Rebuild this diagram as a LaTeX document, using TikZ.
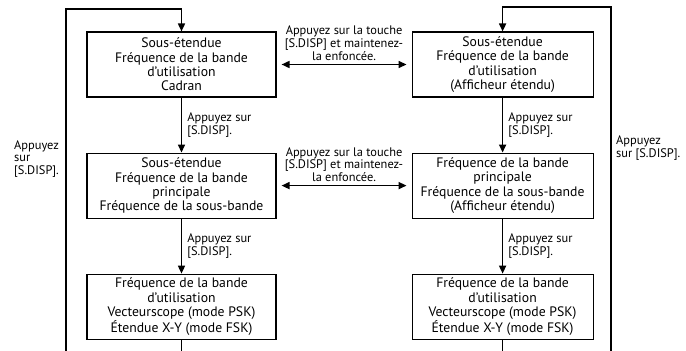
\documentclass[tikz,border=0pt]{standalone}
\usepackage{fontspec}
\setmainfont{PT Sans}
\usetikzlibrary{positioning,arrows.meta}

\begin{document}
\begin{tikzpicture}[node distance=55pt and 135pt,
        mode/.style={draw, rectangle, line width=1.1pt, align=center, minimum height=65pt, inner sep=2pt, font=\fontsize{13.7}{14.3}\selectfont},
        flow/.style={-{Triangle[length=8pt,width=7pt]}, line width=1.6pt},
        swap/.style={{Triangle[length=8pt,width=7pt]}-{Triangle[length=8pt,width=7pt]}, line width=1.6pt, shorten <=5pt, shorten >=5pt},
        hint/.style={font=\fontsize{12.4}{12.8}\selectfont, align=left, inner sep=0pt}]
        \useasboundingbox (0,0) rectangle (686pt,-351pt);

        \node[mode, minimum width=189pt] (subL) at (181.5pt,-64.5pt) {Sous-étendue\\Fréquence de la bande\\d’utilisation\\Cadran};
        \node[mode, minimum width=189pt, below=of subL] (mainL) {Sous-étendue\\Fréquence de la bande\\principale\\Fréquence de la sous-bande};
        \node[mode, minimum width=189pt, below=of mainL] (vecL) {Fréquence de la bande\\d’utilisation\\Vecteurscope (mode PSK)\\Étendue X-Y (mode FSK)};

        \node[mode, minimum width=181pt, right=of subL] (subR) {Sous-étendue\\Fréquence de la bande\\d’utilisation\\(Afficheur étendu)};
        \node[mode, minimum width=181pt, below=of subR] (mainR) {Fréquence de la bande\\principale\\Fréquence de la sous-bande\\(Afficheur étendu)};
        \node[mode, minimum width=181pt, below=of mainR] (vecR) {Fréquence de la bande\\d’utilisation\\Vecteurscope (mode PSK)\\Étendue X-Y (mode FSK)};

        \draw[flow] (subL) -- (mainL) node[hint, midway, right=5pt] {Appuyez sur\\{}[S.DISP].};
        \draw[flow] (mainL) -- (vecL) node[hint, midway, right=5pt] {Appuyez sur\\{}[S.DISP].};
        \draw[flow] (subR) -- (mainR) node[hint, midway, right=5pt] {Appuyez sur\\{}[S.DISP].};
        \draw[flow] (mainR) -- (vecR) node[hint, midway, right=5pt] {Appuyez sur\\{}[S.DISP].};

        \draw[swap] (subL.east) -- (subL.east -| subR.west) node[hint, midway, above=3pt, align=center] {Appuyez sur la touche\\{}[S.DISP] et maintenez-\\la enfoncée.};
        \draw[swap] (mainL.east) -- (mainL.east -| mainR.west) node[hint, midway, above=3pt, align=center] {Appuyez sur la touche\\{}[S.DISP] et maintenez-\\la enfoncée.};

        % loops back to the top
        \coordinate (ltop) at (65.7pt,-9pt);
        \coordinate (lend) at (65.7pt,-351pt);
        \coordinate (rtop) at (611pt,-7pt);
        \coordinate (rend) at (611pt,-351pt);
        \draw[flow] (lend) -- (ltop) -| (subL.north);
        \draw[flow] (rend) -- (rtop) -| (subR.north);
        \draw[line width=1.6pt] (vecL.south) -- (vecL.south |- lend);
        \draw[line width=1.6pt] (vecR.south) -- (vecR.south |- rend);

        \node[hint, anchor=west] (loopL) at (14pt,-159pt) {Appuyez\\sur\\{}[S.DISP].};
        \node[hint, anchor=west] (loopR) at (616pt,-148pt) {Appuyez\\sur [S.DISP].};
    \end{tikzpicture}
\end{document}
